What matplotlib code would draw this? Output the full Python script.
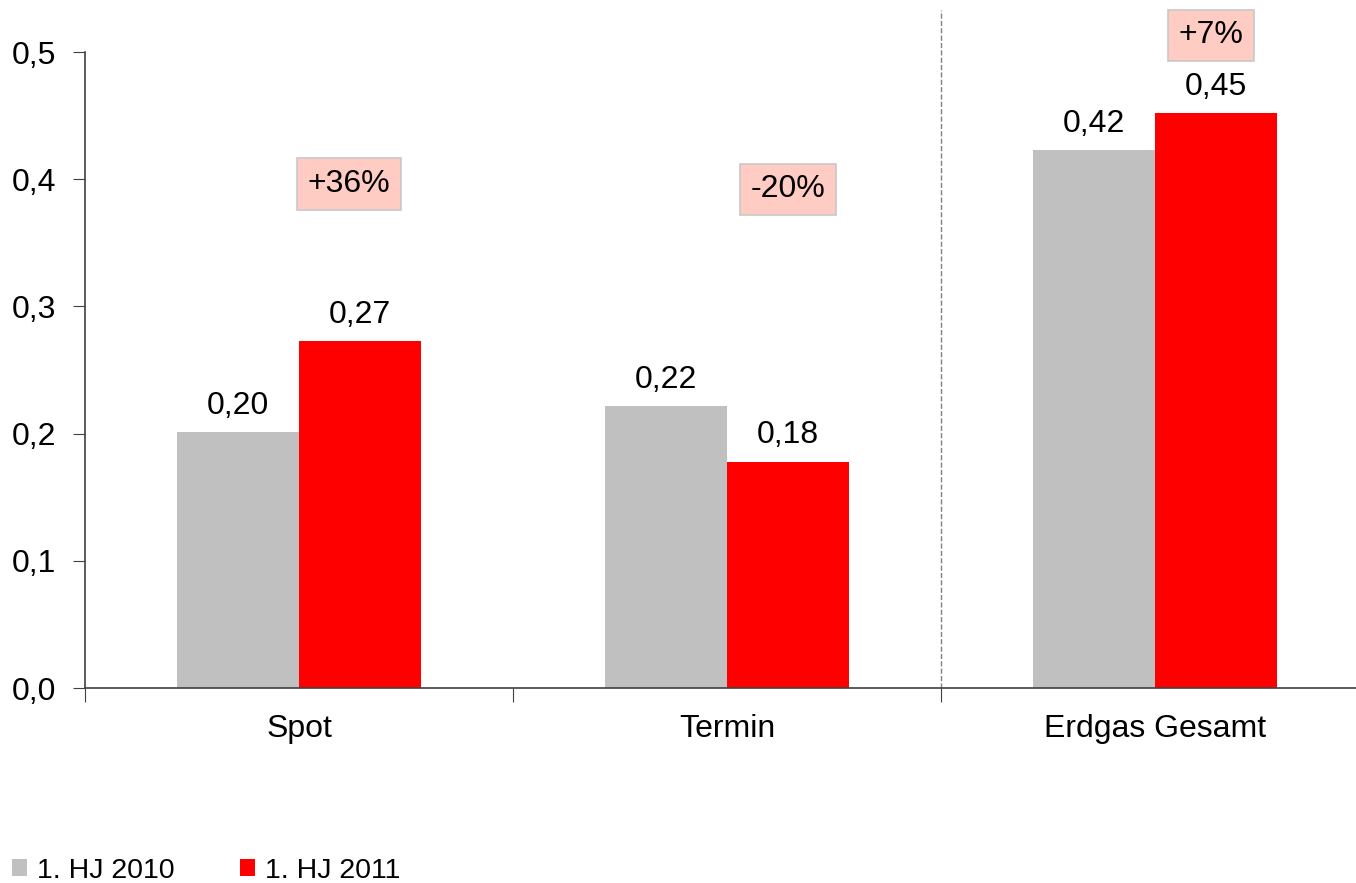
import matplotlib
matplotlib.use('Agg')
import matplotlib.pyplot as plt
import numpy as np

plt.rcParams['font.family'] = ['Liberation Sans', 'DejaVu Sans']

# Daten
categories = ['Spot', 'Termin', 'Erdgas Gesamt']
werte_2010 = [0.201, 0.222, 0.423]
werte_2011 = [0.273, 0.178, 0.452]
labels_2010 = ['0,20', '0,22', '0,42']
labels_2011 = ['0,27', '0,18', '0,45']
veraenderung = ['+36%', '-20%', '+7%']
veraenderung_y = [0.396, 0.392, 0.513]
yticks = [0.0, 0.1, 0.2, 0.3, 0.4, 0.5]
ytick_labels = ['0,0', '0,1', '0,2', '0,3', '0,4', '0,5']

fs = 23
fig = plt.figure(figsize=(13.56, 8.83), dpi=100)
ax = fig.add_axes([85 / 1356, 195 / 883, 1284 / 1356, 636 / 883])

x = np.arange(len(categories))
w = 0.285
ax.bar(x - w / 2, werte_2010, w, color='#c0c0c0', label='1. HJ 2010', zorder=2)
ax.bar(x + w / 2, werte_2011, w, color='#ff0000', label='1. HJ 2011', zorder=2)

box_dx = [-0.025, 0.0, -0.012]
for i in range(len(categories)):
    ax.annotate(labels_2010[i], (x[i] - w / 2, werte_2010[i]), xytext=(0, 8),
                textcoords='offset points', ha='center', va='bottom', fontsize=fs)
    ax.annotate(labels_2011[i], (x[i] + w / 2, werte_2011[i]), xytext=(0, 8),
                textcoords='offset points', ha='center', va='bottom', fontsize=fs)
    ax.text(x[i] + w / 2 + box_dx[i], veraenderung_y[i], veraenderung[i],
            ha='center', va='center', fontsize=fs,
            bbox=dict(boxstyle='square,pad=0.34', fc='#ffccc4', ec='#c8c8c8', lw=1.2),
            clip_on=False)

# Trennlinie
ax.plot([1.5, 1.5], [0, 0.533], ls='--', color='#808080', lw=1, clip_on=False)

ax.set_xlim(-0.5, 2.5)
ax.set_ylim(0, 0.5)
ax.set_xticks([-0.5, 0.5, 1.5, 2.5])
ax.set_xticklabels([])
ax.set_xticks(x, minor=True)
ax.set_xticklabels(categories, minor=True, fontsize=fs)
ax.tick_params(axis='x', which='minor', length=0, pad=19)
ax.tick_params(axis='x', which='major', length=10, direction='out', color='#404040')
ax.set_yticks(yticks)
ax.set_yticklabels(ytick_labels, fontsize=fs)
ax.tick_params(axis='y', length=9, direction='out', pad=12, color='#404040')

for s in ['top', 'right']:
    ax.spines[s].set_visible(False)
for s in ['left', 'bottom']:
    ax.spines[s].set_color('#404040')
    ax.spines[s].set_linewidth(1.2)

fig.legend(loc='lower left', bbox_to_anchor=(-0.004, -0.02), ncol=2, frameon=False,
           fontsize=20.5, handlelength=0.53, handleheight=0.53, handletextpad=0.35,
           columnspacing=2.3, borderaxespad=0.2)

fig.savefig('out.png', dpi=100)
